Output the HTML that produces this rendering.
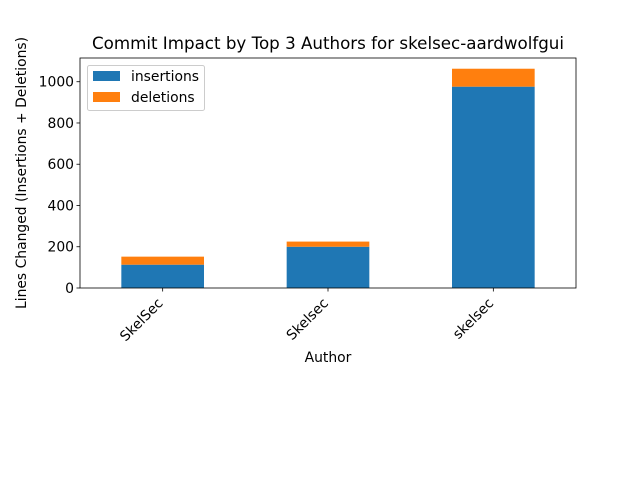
<!DOCTYPE html>
<html><head><meta charset="utf-8"><style>
body{margin:0;background:#fff;}
svg{display:block;font-family:"DejaVu Sans","Liberation Sans",sans-serif;}
</style></head><body>
<svg id="c" width="640" height="480" viewBox="0 0 640 480">
<rect width="640" height="480" fill="#fff"/>
<text x="328" y="49" font-size="16.7" text-anchor="middle">Commit Impact by Top 3 Authors for skelsec-aardwolfgui</text>
<text transform="translate(26,173) rotate(-90)" font-size="13.9" text-anchor="middle">Lines Changed (Insertions + Deletions)</text>
<text x="328" y="362" font-size="13.9" text-anchor="middle">Author</text>
<g id="bars"></g>
<g id="axes"></g>
<rect x="80" y="58" width="496" height="230" fill="none" stroke="#000" stroke-width="0.8"/>
<g>
<rect x="87.5" y="65.5" width="117" height="45" rx="2" fill="#fff" fill-opacity="0.8" stroke="#ccc"/>
<rect x="93" y="71" width="27" height="10" fill="#1f77b4"/>
<text x="131" y="81" font-size="13.9">insertions</text>
<rect x="93" y="92" width="27" height="10" fill="#ff7f0e"/>
<text x="131" y="102" font-size="13.9">deletions</text>
</g>
</svg>
<script>
const categories = ["SkelSec", "Skelsec", "skelsec"];
const insertions = [113, 200, 976];
const deletions = [39, 25, 87];
const yTicks = [0, 200, 400, 600, 800, 1000];
const NS = "http://www.w3.org/2000/svg";
const L = 80, R = 576, T = 58, B = 288, yMax = 1115;
const step = (R - L) / categories.length;
const xc = i => L + step * (i + 0.5);
const y = v => B - (v / yMax) * (B - T);
const bw = step * 0.5;
function mk(tag, attrs, parent) {
  const e = document.createElementNS(NS, tag);
  for (const k in attrs) e.setAttribute(k, attrs[k]);
  parent.appendChild(e);
  return e;
}
const bars = document.getElementById("bars"), axes = document.getElementById("axes");
categories.forEach((c, i) => {
  const a = mk("rect", {x: xc(i) - bw / 2, y: y(insertions[i]), width: bw, height: B - y(insertions[i]), fill: "#1f77b4"}, bars);
  
  
  const tot = insertions[i] + deletions[i];
  const d = mk("rect", {x: xc(i) - bw / 2, y: y(tot), width: bw, height: y(insertions[i]) - y(tot), fill: "#ff7f0e"}, bars);
  
  
  const t = mk("line", {x1: xc(i), x2: xc(i), y1: B, y2: B + 3.5, stroke: "#000", "stroke-width": 0.8}, axes);
  
  
  const lb = mk("text", {transform: `translate(${xc(i) + 1},${B + 16}) rotate(-45)`, "font-size": 13.9, "text-anchor": "end"}, axes);
  lb.textContent = c;
  
  
});
yTicks.forEach(v => {
  const t = mk("line", {x1: L - 3.5, x2: L, y1: y(v), y2: y(v), stroke: "#000", "stroke-width": 0.8}, axes);
  
  
  const lb = mk("text", {x: L - 6, y: y(v) + 5, "font-size": 13.9, "text-anchor": "end"}, axes);
  lb.textContent = v;
  
  
});
</script>
</body></html>
